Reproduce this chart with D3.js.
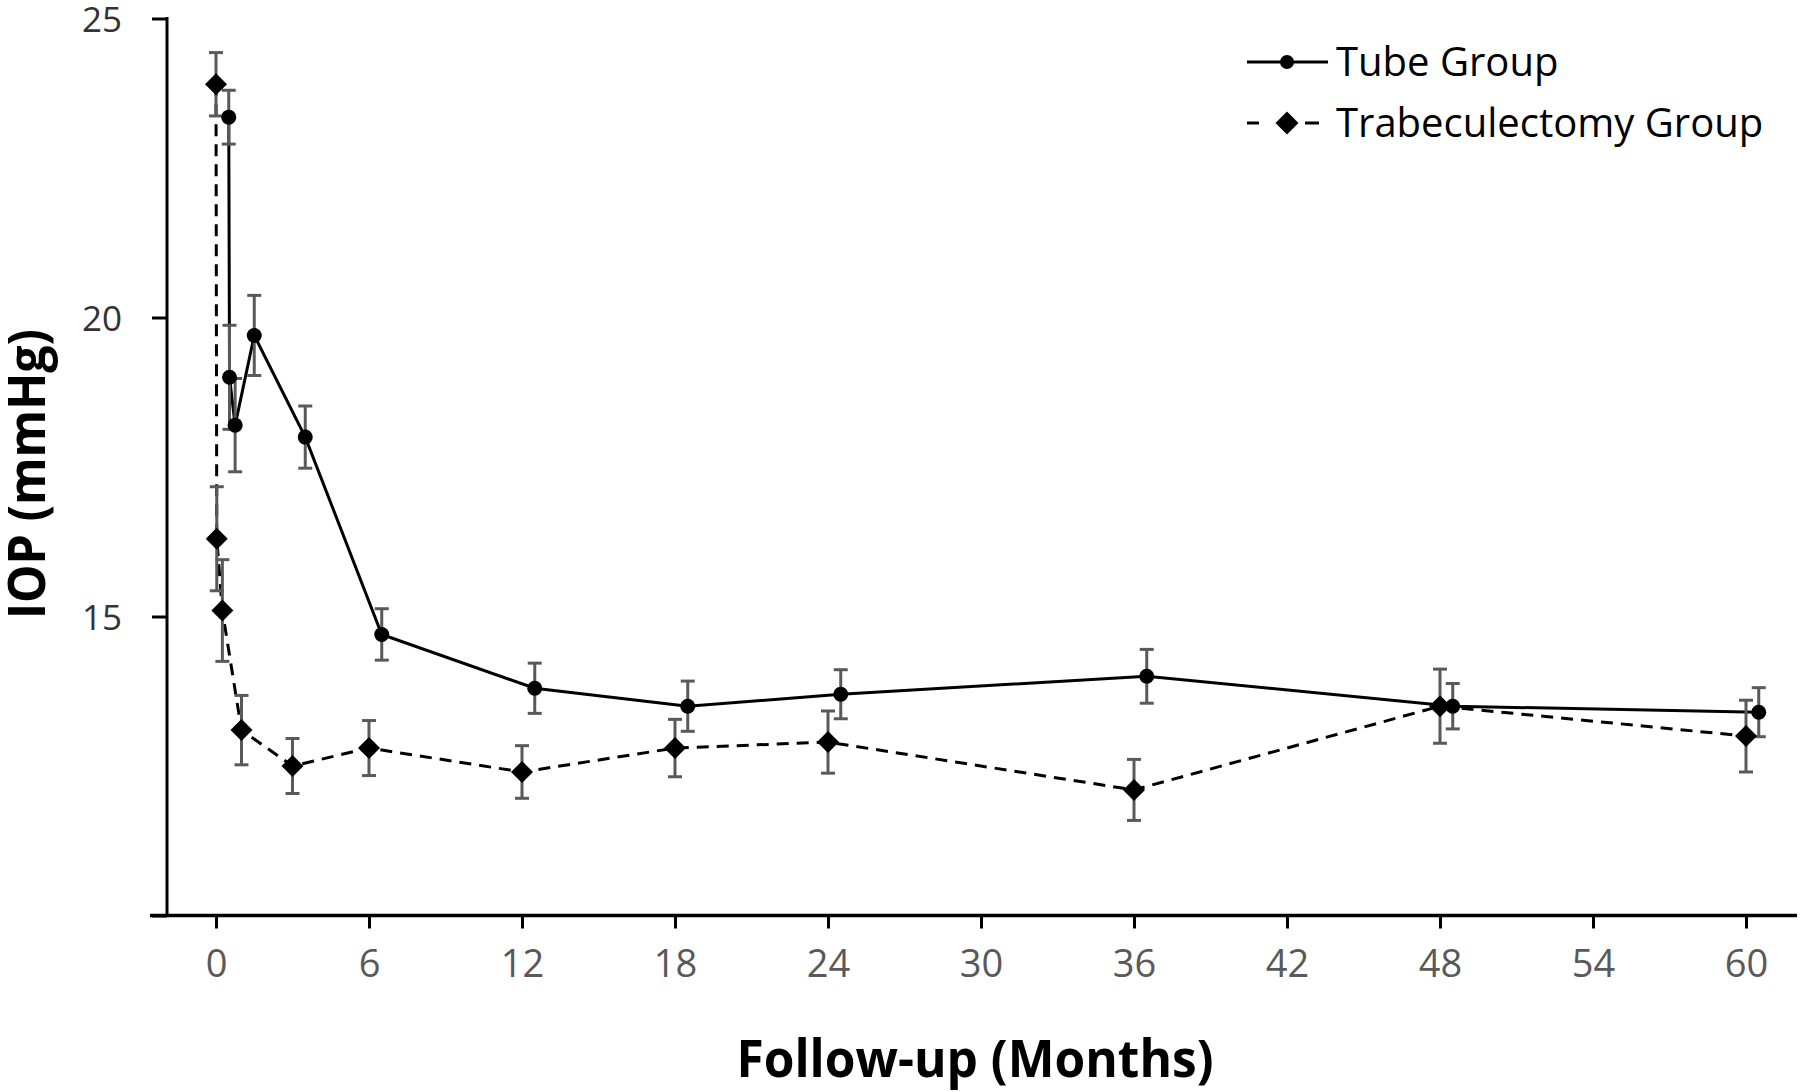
<!DOCTYPE html>
<html>
<head>
<meta charset="utf-8">
<script src="https://cdn.jsdelivr.net/npm/d3@7"></script>
<style>
  html, body { margin: 0; padding: 0; background: #fff; }
  svg { display: block; }
</style>
</head>
<body>
<div id="chart"></div>
<script>
// ---- Data ----
const seriesNames = ["Tube Group", "Trabeculectomy Group"];

const tubeMonths = [0.5, 0.53, 0.75, 1.5, 3.5, 6.5, 12.5, 18.5, 24.5, 36.5, 48.5, 60.5];
const tubeMean   = [23.35, 19.0, 18.2, 19.7, 18.0, 14.7, 13.8, 13.5, 13.7, 14.0, 13.5, 13.4];
const tubeErr    = [0.45, 0.87, 0.78, 0.67, 0.52, 0.43, 0.42, 0.42, 0.41, 0.45, 0.38, 0.41];

const trabMonths = [0, 0.03, 0.25, 1, 3, 6, 12, 18, 24, 36, 48, 60];
const trabMean   = [23.9, 16.3, 15.1, 13.1, 12.5, 12.8, 12.4, 12.8, 12.9, 12.1, 13.5, 13.0];
const trabErr    = [0.53, 0.87, 0.85, 0.58, 0.46, 0.46, 0.44, 0.48, 0.52, 0.51, 0.62, 0.60];

const xTicks = [0, 6, 12, 18, 24, 30, 36, 42, 48, 54, 60];
const yTicks = [10, 15, 20, 25];
const yTickLabels = ["", "15", "20", "25"];

const xTitle = "Follow-up (Months)";
const yTitle = "IOP (mmHg)";

// ---- Layout ----
const W = 1800, H = 1092;
const axisX = 167;          // y-axis position
const axisY = 915.5;        // x-axis position
const plotRight = 1797;
const FONT = "'Open Sans', 'Noto Sans', 'DejaVu Sans', sans-serif";

const x = d3.scaleLinear().domain([0, 60]).range([216, 1746]);
const y = d3.scaleLinear().domain([10, 25]).range([axisY, 18.5]);

const svg = d3.select("#chart").append("svg")
  .attr("width", W).attr("height", H)
  .attr("viewBox", `0 0 ${W} ${H}`);

svg.append("rect").attr("width", W).attr("height", H).attr("fill", "#fff");

// ---- Y axis ----
const yAxis = d3.axisLeft(y).tickValues(yTicks)
  .tickFormat((d, i) => yTickLabels[i]).tickSize(15).tickPadding(30);
const gy = svg.append("g").attr("transform", `translate(${axisX},0)`).call(yAxis);
gy.select(".domain").remove();
gy.selectAll(".tick line").attr("stroke", "#000").attr("stroke-width", 3);
gy.selectAll(".tick text").attr("font-family", FONT).attr("font-size", 35)
  .attr("fill", "#333").attr("dy", "0.36em");
svg.append("line")
  .attr("x1", axisX).attr("x2", axisX)
  .attr("y1", y(25) - 1.5).attr("y2", axisY)
  .attr("stroke", "#000").attr("stroke-width", 3);

// ---- X axis ----
const xAxis = d3.axisBottom(x).tickValues(xTicks).tickSize(13).tickPadding(22);
const gx = svg.append("g").attr("transform", `translate(0,${axisY})`).call(xAxis);
gx.select(".domain").remove();
gx.selectAll(".tick line").attr("stroke", "#000").attr("stroke-width", 3);
gx.selectAll(".tick text").attr("font-family", FONT).attr("font-size", 38)
  .attr("fill", "#595959");
svg.append("line")
  .attr("x1", axisX - 17).attr("x2", plotRight)
  .attr("y1", axisY).attr("y2", axisY)
  .attr("stroke", "#000").attr("stroke-width", 3.5);

// ---- Titles ----
svg.append("text")
  .attr("x", 975).attr("y", 1077)
  .attr("text-anchor", "middle")
  .attr("font-family", FONT).attr("font-weight", 700).attr("font-size", 52)
  .attr("textLength", 477).attr("lengthAdjust", "spacingAndGlyphs")
  .attr("fill", "#000")
  .text(xTitle);

svg.append("text")
  .attr("transform", `translate(45,474) rotate(-90)`)
  .attr("text-anchor", "middle")
  .attr("font-family", FONT).attr("font-weight", 700).attr("font-size", 52)
  .attr("textLength", 290).attr("lengthAdjust", "spacingAndGlyphs")
  .attr("fill", "#000")
  .text(yTitle);

// ---- Series ----
const tube = tubeMonths.map((m, i) => ({ m, v: tubeMean[i], e: tubeErr[i] }));
const trab = trabMonths.map((m, i) => ({ m, v: trabMean[i], e: trabErr[i] }));

const line = d3.line().x(d => x(d.m)).y(d => y(d.v));

svg.append("path").datum(trab).attr("d", line)
  .attr("fill", "none").attr("stroke", "#000").attr("stroke-width", 3)
  .attr("stroke-dasharray", "12,8");
svg.append("path").datum(tube).attr("d", line)
  .attr("fill", "none").attr("stroke", "#000").attr("stroke-width", 3);

// error bars
function errorBars(data) {
  const g = svg.append("g").attr("stroke", "#595959").attr("stroke-width", 3).attr("fill", "none");
  const cap = 7;
  data.forEach(d => {
    const cx = x(d.m), y1 = y(d.v + d.e), y2 = y(d.v - d.e);
    g.append("line").attr("x1", cx).attr("x2", cx).attr("y1", y1).attr("y2", y2);
    g.append("line").attr("x1", cx - cap).attr("x2", cx + cap).attr("y1", y1).attr("y2", y1);
    g.append("line").attr("x1", cx - cap).attr("x2", cx + cap).attr("y1", y2).attr("y2", y2);
  });
}
errorBars(trab);
errorBars(tube);

const diamond = s => `M0,${-s}L${s},0L0,${s}L${-s},0Z`;

svg.append("g").selectAll("path").data(trab).join("path")
  .attr("transform", d => `translate(${x(d.m)},${y(d.v)})`)
  .attr("d", diamond(11)).attr("fill", "#000");

svg.append("g").selectAll("circle").data(tube).join("circle")
  .attr("cx", d => x(d.m)).attr("cy", d => y(d.v)).attr("r", 7.5).attr("fill", "#000");

// ---- Legend ----
const lg = svg.append("g");
const lx1 = 1247, lx2 = 1328, lmx = 1287, textX = 1336;
const row1 = 62, row2 = 123;
lg.append("line").attr("x1", lx1).attr("x2", lx2).attr("y1", row1).attr("y2", row1)
  .attr("stroke", "#000").attr("stroke-width", 3);
lg.append("circle").attr("cx", lmx).attr("cy", row1).attr("r", 7).attr("fill", "#000");
lg.append("line").attr("x1", lx1).attr("x2", 1259).attr("y1", row2).attr("y2", row2)
  .attr("stroke", "#000").attr("stroke-width", 3);
lg.append("path").attr("transform", `translate(${lmx},${row2})`).attr("d", diamond(11.5)).attr("fill", "#000");
lg.append("line").attr("x1", 1305).attr("x2", 1319).attr("y1", row2).attr("y2", row2)
  .attr("stroke", "#000").attr("stroke-width", 3);
lg.selectAll("text.leg").data(seriesNames).join("text")
  .attr("class", "leg")
  .attr("x", textX).attr("y", (d, i) => (i === 0 ? row1 : row2) + 14)
  .attr("font-family", FONT).attr("font-size", 40).attr("fill", "#000")
  .text(d => d);
</script>
</body>
</html>
